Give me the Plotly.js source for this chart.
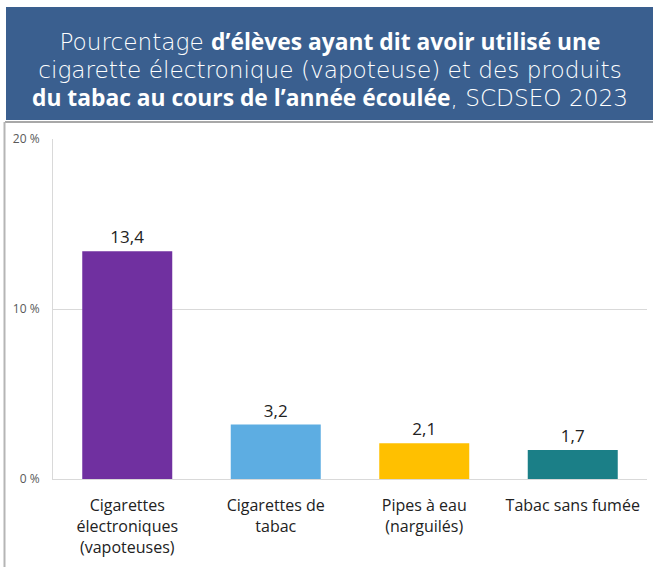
<!DOCTYPE html>
<html>
<head>
<meta charset="utf-8">
<script src="https://cdn.plot.ly/plotly-3.0.1.min.js"></script>
<style>html,body{margin:0;padding:0;background:#fff;}#chart{width:653px;height:567px;}</style>
</head>
<body>
<div id="chart"></div>
<script>
const categories = ["Cigarettes<br>électroniques<br>(vapoteuses)", "Cigarettes de<br>tabac", "Pipes à eau<br>(narguilés)", "Tabac sans fumée"];
const values = [13.4, 3.2, 2.1, 1.7];
const barColors = ["#7030A0", "#5DADE2", "#FFC000", "#1B7F87"];
const yTickVals = [0, 10, 20];
const yTickText = ["0 %", "10 %", "20 %"];
const N1 = '<span style="font-size:23.2px;font-weight:200">';
const B1 = '<span style="font-family:\'Open Sans\';font-size:22.8px;font-weight:bold">';
const titleText = N1 + "Pourcentage </span>" + B1 + "d’élèves ayant dit avoir utilisé une</span><br>" +
  N1 + "cigarette électronique (vapoteuse) et des produits</span><br>" +
  B1 + "du tabac au cours de l’année écoulée</span>" + N1 + ", SCDSEO 2023</span>";

const W = 653, H = 567, L = 53, R = 6, T = 139, B = 88;
const pw = W - L - R, ph = H - T - B;
const px = v => (v - L) / pw;
const py = v => (H - B - v) / ph;

const trace = {
  type: "bar",
  x: categories,
  y: values,
  marker: { color: barColors },
  texttemplate: "%{y:.1f}",
  textposition: "outside",
  cliponaxis: false,
  textfont: { family: "Open Sans, sans-serif", size: 17, color: "#222" },
  hoverinfo: "none"
};

const layout = {
  width: W, height: H,
  margin: { l: L, r: R, t: T, b: B },
  separators: ", ",
  paper_bgcolor: "#fff",
  plot_bgcolor: "#fff",
  bargap: 0.394,
  showlegend: false,
  title: {
    text: titleText,
    x: px(330), xref: "paper", xanchor: "center",
    y: 1 - 50 / H, yref: "container", yanchor: "middle",
    font: { family: "DejaVu Sans, sans-serif", size: 21.5, color: "#fff" }
  },
  xaxis: {
    showline: true, linecolor: "#d9d9d9", linewidth: 1,
    ticks: "outside", ticklen: 12, tickcolor: "rgba(0,0,0,0)",
    tickfont: { family: "Open Sans, sans-serif", size: 16, color: "#222" },
    fixedrange: true
  },
  yaxis: {
    range: [0, 20],
    tickmode: "array",
    tickvals: yTickVals,
    ticktext: yTickText,
    showgrid: true, gridcolor: "#d9d9d9", gridwidth: 1,
    showline: true, linecolor: "#d9d9d9", linewidth: 1,
    zeroline: false,
    ticks: "outside", ticklen: 10, tickcolor: "rgba(0,0,0,0)",
    tickfont: { family: "Open Sans, sans-serif", size: 12, color: "#595959" },
    fixedrange: true
  },
  shapes: [
    { type: "rect", xref: "paper", yref: "paper", layer: "below",
      x0: px(6), x1: px(660), y0: py(120), y1: py(7),
      fillcolor: "#3A5F8F", line: { width: 0 } },
    { type: "line", xref: "paper", yref: "paper",
      x0: px(5), x1: px(660), y0: py(122), y1: py(122),
      line: { color: "#a8a8a8", width: 2 } },
    { type: "line", xref: "paper", yref: "paper",
      x0: px(4.5), x1: px(4.5), y0: py(122), y1: py(580),
      line: { color: "#b5b5b5", width: 2 } }
  ]
};

Plotly.newPlot("chart", [trace], layout, { displayModeBar: false, staticPlot: true });
</script>
</body>
</html>
